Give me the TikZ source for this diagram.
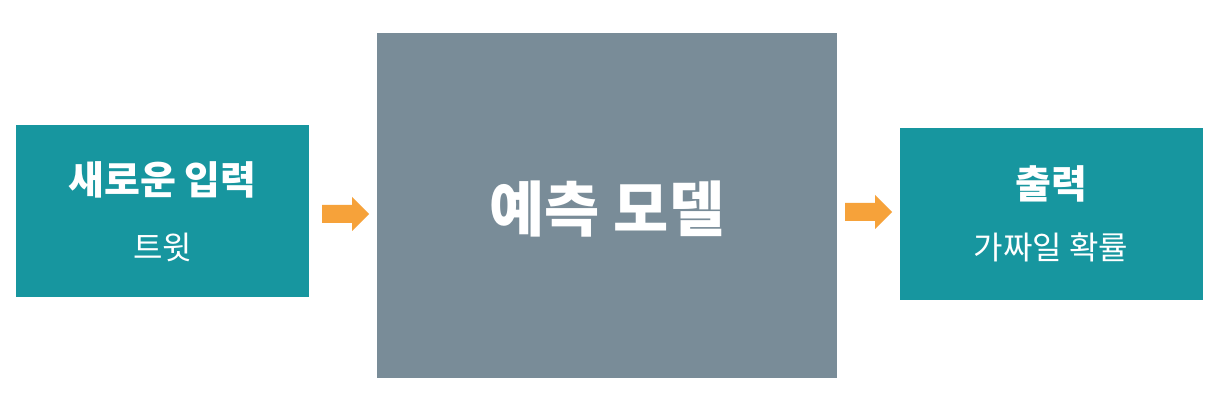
\documentclass[tikz,border=0pt]{standalone}
\usepackage{fontspec}
\setmainfont{Noto Sans CJK KR}
\definecolor{teal1}{HTML}{17969F}
\definecolor{grey1}{HTML}{798C98}
\definecolor{orange1}{HTML}{F6A23A}
\begin{document}
\begin{tikzpicture}[x=1pt,y=-1pt,
  box/.style={draw=none,inner sep=0pt,text=white,align=center},
  blockarrow/.pic={\fill[orange1] (0,-9) -- (30,-9) -- (30,-17) -- (47,0) -- (30,17) -- (30,9) -- (0,9) -- cycle;},
  ttl/.style={font=\fontsize{39}{44}\selectfont\bfseries},
  sub/.style={font=\fontsize{32}{36}\selectfont}]
\useasboundingbox[fill=white] (0,0) rectangle (1220,411);
\fill[teal1] (16,125) rectangle (309,297);
\fill[grey1] (377,33) rectangle (837,378);
\fill[teal1] (900,128) rectangle (1203,300);
\node[box,ttl] (t1) at (162.5,180) {새로운 입력};
\node[box,sub] (s1) at (162.5,247) {트윗};
\node[box,font=\fontsize{60}{68}\selectfont\bfseries,text=white] (m) at (607,209) {예측 모델};
\node[box,ttl] (t2) at (1051,184) {출력};
\node[box,sub] (s2) at (1051,247) {가짜일 확률};
\pic at (322,214) {blockarrow};
\pic at (845,212) {blockarrow};
\end{tikzpicture}
\end{document}
